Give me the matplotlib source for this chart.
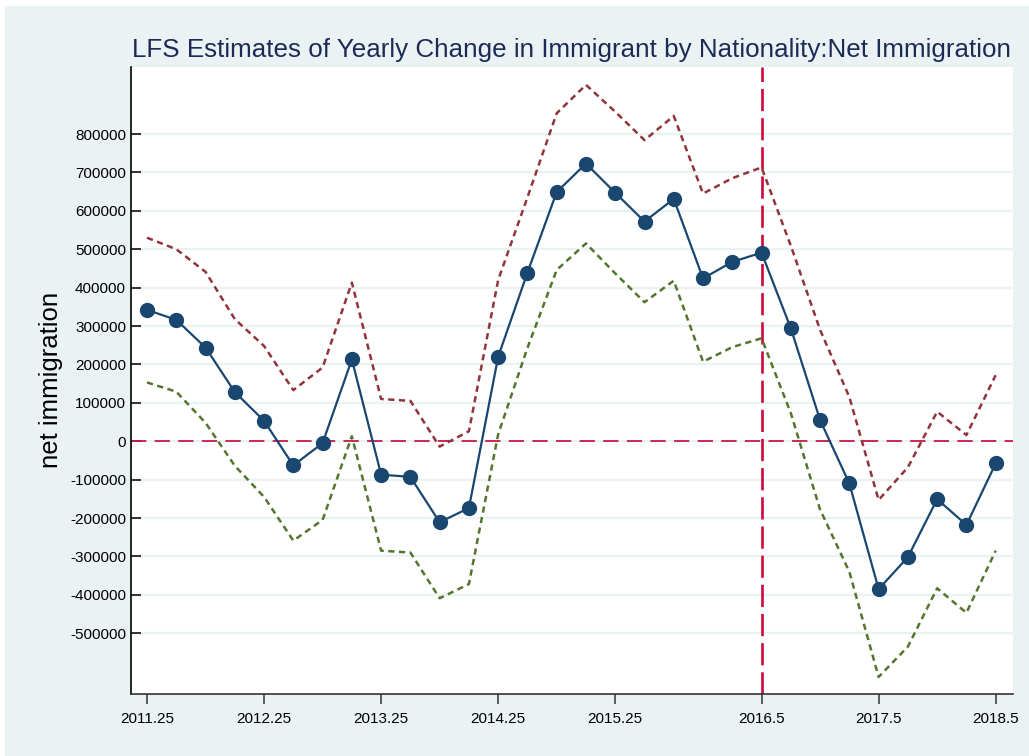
import matplotlib
matplotlib.use("Agg")
import matplotlib.pyplot as plt
from matplotlib.patches import Rectangle

# Quarterly time index (year + fraction)
quarters = [2011.25, 2011.5, 2011.75, 2012.0, 2012.25, 2012.5, 2012.75, 2013.0,
            2013.25, 2013.5, 2013.75, 2014.0, 2014.25, 2014.5, 2014.75, 2015.0,
            2015.25, 2015.5, 2015.75, 2016.0, 2016.25, 2016.5, 2016.75, 2017.0,
            2017.25, 2017.5, 2017.75, 2018.0, 2018.25, 2018.5]

# Net immigration estimate and its confidence bounds
net_immigration = [342000, 316000, 244000, 128000, 53000, -63000, -5000, 213000,
                   -87000, -93000, -211000, -174000, 220000, 439000, 649000, 723000,
                   647000, 572000, 631000, 424000, 467000, 491000, 294000, 55000,
                   -110000, -385000, -302000, -151000, -218000, -58000]
upper_bound = [530000, 500000, 441000, 318000, 248000, 133000, 192000, 413000,
               110000, 105000, -14000, 26000, 420000, 635000, 854000, 928000,
               858000, 784000, 847000, 645000, 685000, 713000, 509000, 290000,
               115000, -153000, -68000, 77000, 16000, 172000]
lower_bound = [153000, 129000, 48000, -64000, -145000, -259000, -205000, 13000,
               -285000, -290000, -409000, -372000, 18000, 243000, 446000, 515000,
               437000, 362000, 418000, 207000, 245000, 268000, 73000, -178000,
               -340000, -614000, -535000, -383000, -447000, -285000]

x_ticks = [2011.25, 2012.25, 2013.25, 2014.25, 2015.25, 2016.5, 2017.5, 2018.5]
x_tick_labels = ["2011.25", "2012.25", "2013.25", "2014.25", "2015.25", "2016.5", "2017.5", "2018.5"]
y_ticks = [-500000, -400000, -300000, -200000, -100000, 0, 100000, 200000,
           300000, 400000, 500000, 600000, 700000, 800000]
reference_x = 2016.5
reference_y = 0

title_text = "LFS Estimates of Yearly Change in Immigrant by Nationality:Net Immigration"
y_label = "net immigration"

plt.rcParams["font.family"] = ["Liberation Sans", "DejaVu Sans"]
plt.rcParams["lines.scale_dashes"] = False

W, H = 1029, 756
fig = plt.figure(figsize=(W / 100, H / 100), dpi=100, facecolor="white")

region_color = "#EAF2F3"
fig.patches.append(Rectangle((5 / W, 0), 1 - 5 / W, 1 - 6 / H, transform=fig.transFigure,
                             facecolor=region_color, edgecolor="none", zorder=-10))

left, right, top, bottom = 131, 1013, 67, 694
ax = fig.add_axes([left / W, 1 - bottom / H, (right - left) / W, (bottom - top) / H])
ax.set_facecolor("white")

# Confidence bounds
ax.plot(quarters, upper_bound, color="#90353B", lw=1.8, linestyle=(0, (4.5, 3.2)), zorder=3)
ax.plot(quarters, lower_bound, color="#55752F", lw=1.8, linestyle=(0, (4.5, 3.2)), zorder=3)

# Reference lines
ax.axhline(reference_y, color="#C8174A", lw=1.3, linestyle=(0, (11, 6)), zorder=2)
ax.axvline(reference_x, color="#CC0A3A", lw=1.9, linestyle=(0, (16, 5)), zorder=2)

# Point estimate
ax.plot(quarters, net_immigration, color="#1A476F", lw=1.6, marker="o",
        markersize=10, markerfacecolor="#1A476F", markeredgecolor="#1A476F", zorder=4)

ax.set_xlim(2011.1133, 2018.648)
ax.set_ylim(-658300, 974500)

ax.set_xticks(x_ticks)
ax.set_xticklabels(x_tick_labels)
ax.set_yticks(y_ticks)
ax.set_yticklabels([str(v) for v in y_ticks])

ax.grid(axis="y", color=region_color, lw=1.7, zorder=1)
ax.set_axisbelow(True)

ax.tick_params(axis="y", direction="in", length=7.2, width=1.1, color="black",
               labelsize=11, pad=3.6, labelcolor="black")
ax.tick_params(axis="x", direction="out", length=7.5, width=1.1, color="#333333",
               labelsize=11, pad=5.5, labelcolor="black")

for side in ("top", "right"):
    ax.spines[side].set_visible(False)
ax.spines["left"].set_color("black")
ax.spines["left"].set_linewidth(1.2)
ax.spines["bottom"].set_color("#333333")
ax.spines["bottom"].set_linewidth(1.2)

fig.text((left + right) / 2 / W, 1 - 57 / H, title_text, ha="center", va="baseline",
         fontsize=18.7, color="#1C2B56")
fig.text(51 / W, 1 - 380 / H, y_label, rotation=90, ha="center", va="center",
         fontsize=18.5, color="black")

fig.savefig("out.png", dpi=100, facecolor=fig.get_facecolor())
